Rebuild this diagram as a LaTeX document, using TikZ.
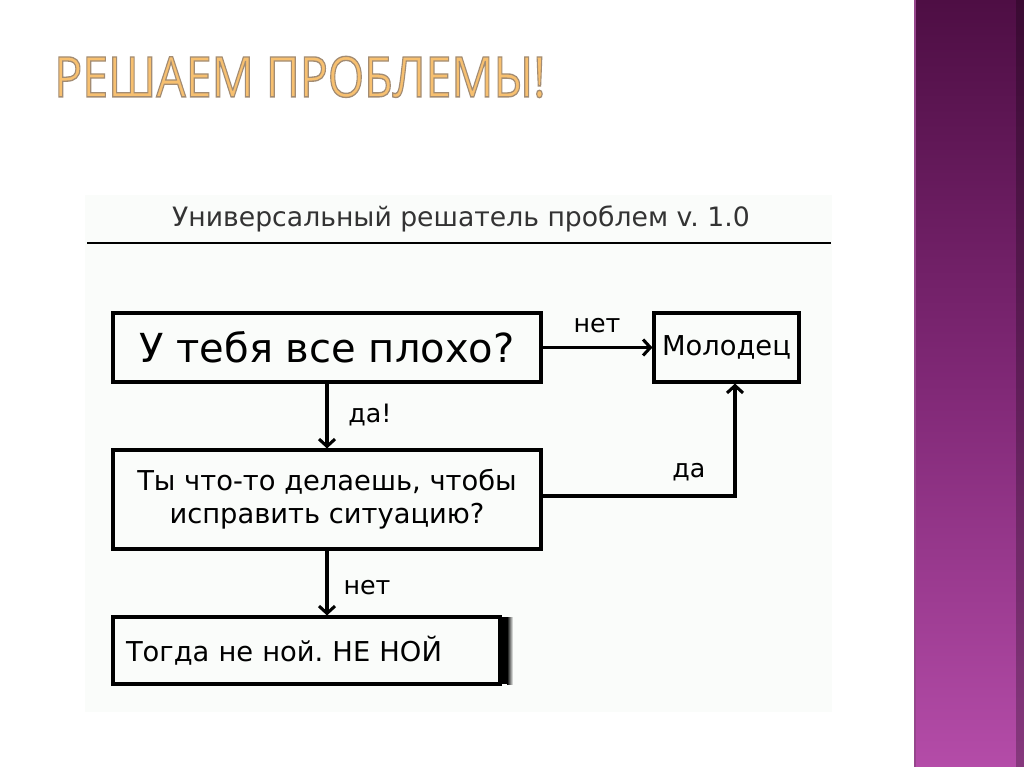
\documentclass[tikz,border=0pt]{standalone}
\usepackage{fontspec}
\usepackage{graphicx}
\setmainfont{DejaVu Sans}
\newfontfamily\titlefont{Open Sans}
\usetikzlibrary{arrows.meta}
\definecolor{ttlfill}{RGB}{247,192,112}
\definecolor{diagbg}{RGB}{250,252,250}
\definecolor{barTop}{RGB}{78,14,68}
\definecolor{barMid}{RGB}{128,40,118}
\definecolor{barBot}{RGB}{180,76,168}
\definecolor{barEdge}{RGB}{150,70,140}
\tikzset{
  flowbox/.style={draw=black, line width=2.3pt, inner sep=0pt, align=center},
  flowarrow/.style={line width=2.3pt, -{Straight Barb[length=5.5pt,width=12pt]}},
  lbl/.style={font=\fontsize{19}{19}\selectfont, inner sep=0pt},
  boxfont/.style={font=\fontsize{20.5}{25}\selectfont}
}
\frenchspacing
\begin{document}
\begin{tikzpicture}[x=0.75pt,y=-0.75pt]
\useasboundingbox (0,0) rectangle (1024,767);
\fill[white] (0,0) rectangle (1024,767);
% purple side bar
\shade[top color=barTop, bottom color=barBot, middle color=barMid] (914,0) rectangle (1024,767);
\shade[left color=barTop!0!black, right color=black, opacity=0.25] (1016,0) rectangle (1024,767);
\draw[barEdge, line width=1.2pt] (915,0) -- (915,767);
% title
\node[anchor=west, inner sep=0pt] (title) at (54,77)
  {\titlefont\fontsize{42}{42}\selectfont\color{ttlfill}\scalebox{0.832}[1]{\special{pdf:literal 2 Tr 1.0 w 0.64 0.55 0.45 RG}РЕШАЕМ ПРОБЛЕМЫ!\special{pdf:literal 0 Tr}}};
% diagram background
\fill[diagbg] (85,195) rectangle (832,712);
% header
\node[inner sep=0pt, font=\fontsize{20}{20}\selectfont, text=black!80] (hdr) at (461,219) {Универсальный решатель проблем v. 1.0};
\draw[line width=1.6pt] (87,243) -- (831,243);
% boxes
\node[flowbox, minimum width=321pt, minimum height=51.75pt, font=\fontsize{30}{30}\selectfont] (q1) at (327,347.5) {У тебя все плохо?};
\node[flowbox, minimum width=108.75pt, minimum height=51.75pt, boxfont] (good) at (726.5,347.5) {Молодец};
\node[flowbox, minimum width=321pt, minimum height=74.25pt, boxfont] (q2) at (327,499.5) {Ты что-то делаешь, чтобы\\исправить ситуацию?};
\node[flowbox, minimum width=290.25pt, minimum height=50.25pt, text width=270.75pt, align=left, boxfont] (q3) at (306.5,650.5) {Тогда не ной. НЕ НОЙ};
\fill[black] (500,617) rectangle (507,684);
\shade[left color=black, right color=diagbg] (507,617) rectangle (513,684);
% connectors
\coordinate (turn) at (735,496);
\draw[flowarrow] (q1.east) -- (good.west);
\draw[flowarrow] (q1.south) -- (q2.north);
\draw[flowarrow] (q2.east |- turn) -- (turn) -- (turn |- good.south);
\draw[flowarrow] (q2.south) -- (q2.south |- q3.north);
% labels
\node[lbl] (l1) at (597,326) {нет};
\node[lbl] (l2) at (370,415) {да!};
\node[lbl] (l3) at (689,472) {да};
\node[lbl] (l4) at (367,588) {нет};
\end{tikzpicture}
\end{document}
